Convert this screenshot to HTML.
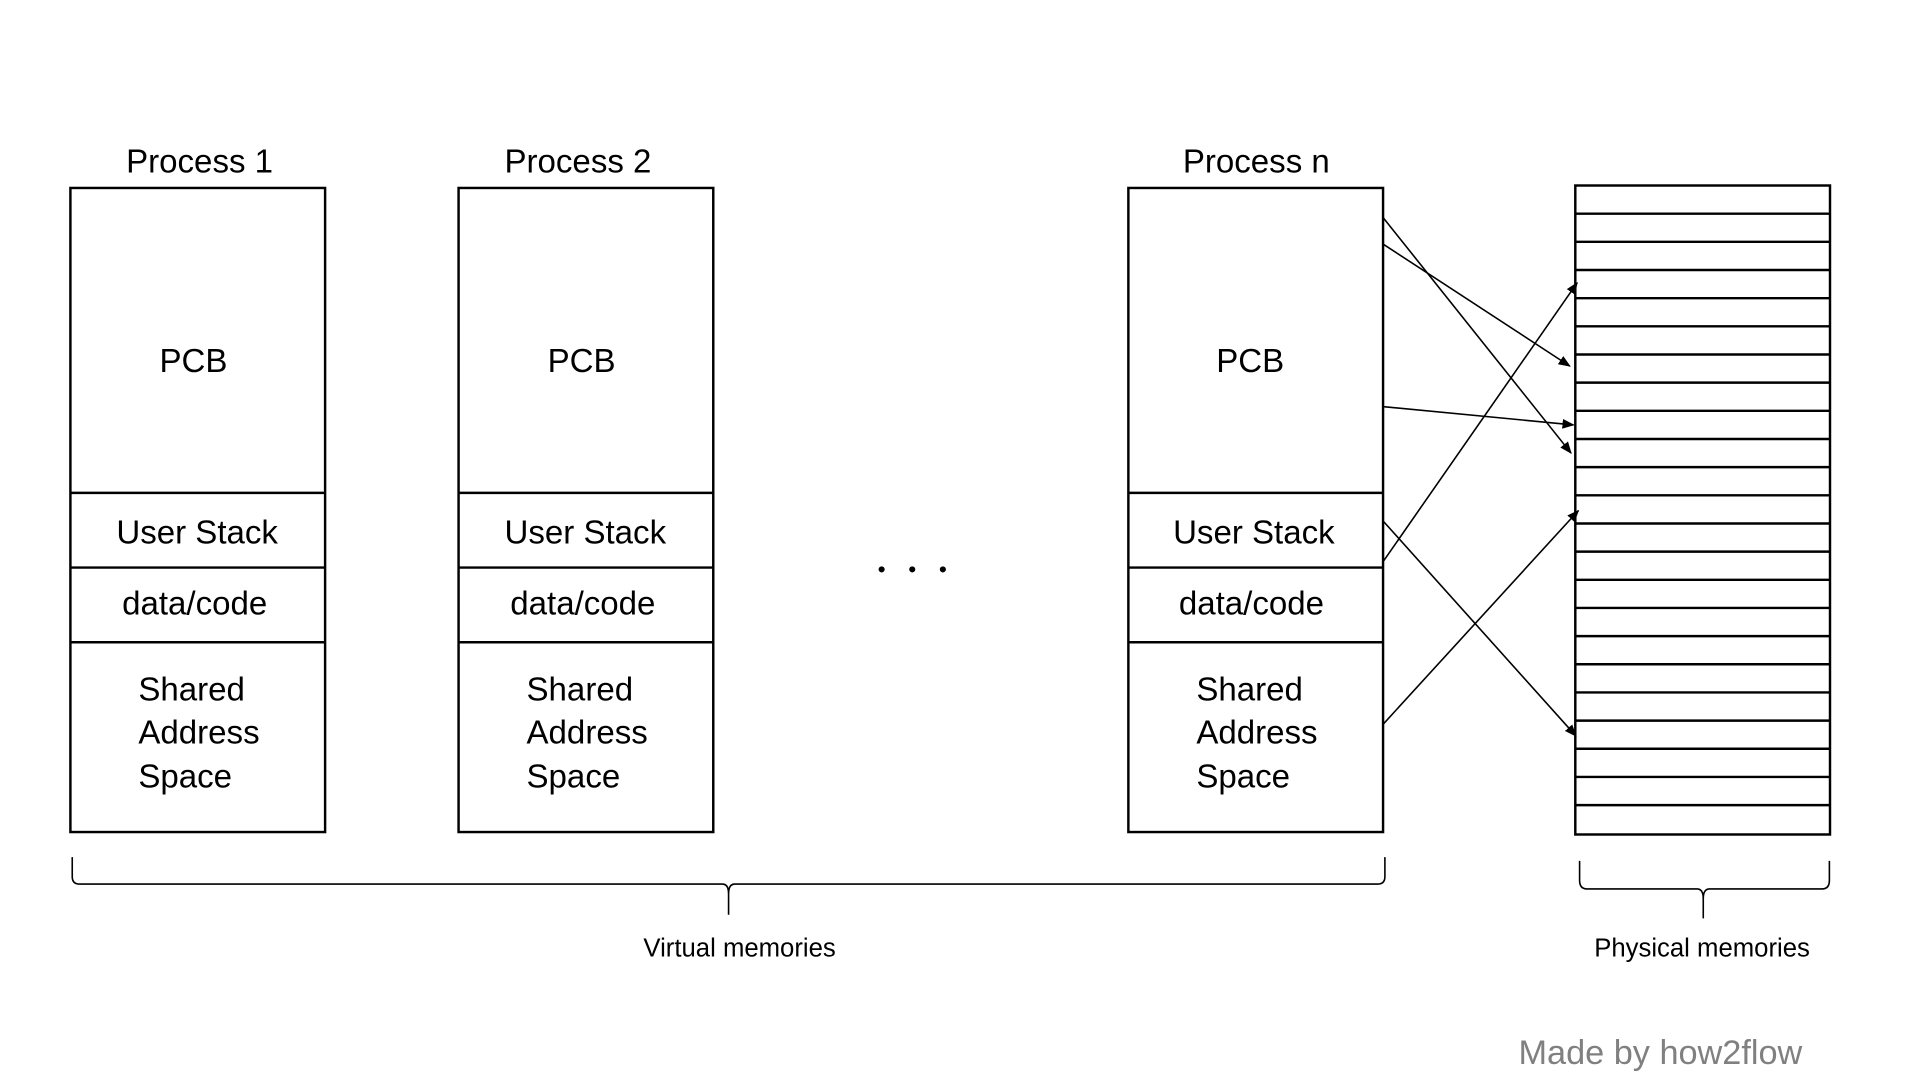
<!DOCTYPE html>
<html><head><meta charset="utf-8"><style>
html,body{margin:0;padding:0;background:#fff;width:1920px;height:1080px;overflow:hidden}
svg{display:block}
text{font-family:"Liberation Sans","NanumGothic",sans-serif;fill:#000}
</style></head><body>
<svg width="1920" height="1080" viewBox="0 0 1568 882" preserveAspectRatio="none" xmlns="http://www.w3.org/2000/svg">
<defs><marker id="a" markerWidth="10" markerHeight="8" refX="9" refY="4" orient="auto" markerUnits="userSpaceOnUse"><path d="M0,0 L10,4 L0,8 z" fill="#000"/></marker></defs>
<g fill="none" stroke="#000" stroke-width="2">
<rect x="57.5" y="153.5" width="208" height="526"/><line x1="57" y1="402.5" x2="265" y2="402.5"/><line x1="57" y1="463.5" x2="265" y2="463.5"/><line x1="57" y1="524.5" x2="265" y2="524.5"/>
<rect x="374.5" y="153.5" width="208" height="526"/><line x1="374" y1="402.5" x2="582" y2="402.5"/><line x1="374" y1="463.5" x2="582" y2="463.5"/><line x1="374" y1="524.5" x2="582" y2="524.5"/>
<rect x="921.5" y="153.5" width="208" height="526"/><line x1="921" y1="402.5" x2="1129" y2="402.5"/><line x1="921" y1="463.5" x2="1129" y2="463.5"/><line x1="921" y1="524.5" x2="1129" y2="524.5"/>
<rect x="1286.5" y="151.5" width="208" height="530"/>
<path d="M1286 174.5H1494M1286 197.5H1494M1286 220.5H1494M1286 243.5H1494M1286 266.5H1494M1286 289.5H1494M1286 312.5H1494M1286 335.5H1494M1286 358.5H1494M1286 381.5H1494M1286 404.5H1494M1286 427.5H1494M1286 450.5H1494M1286 473.5H1494M1286 496.5H1494M1286 519.5H1494M1286 542.5H1494M1286 565.5H1494M1286 588.5H1494M1286 611.5H1494M1286 634.5H1494M1286 657.5H1494"/>
</g>
<g fill="none" stroke="#000" stroke-width="1.3">
<line x1="1129" y1="177" x2="1283" y2="370" marker-end="url(#a)"/>
<line x1="1129" y1="199" x2="1282" y2="299" marker-end="url(#a)"/>
<line x1="1129" y1="332" x2="1285" y2="347" marker-end="url(#a)"/>
<line x1="1130" y1="458" x2="1288" y2="231" marker-end="url(#a)"/>
<line x1="1130" y1="426" x2="1287" y2="601" marker-end="url(#a)"/>
<line x1="1130" y1="591" x2="1289" y2="417" marker-end="url(#a)"/>
<path d="M59 700 V716 Q59 722 65 722 H590 Q595 722 595 730 V747 M595 730 Q595 722 600 722 H1125 Q1131 722 1131 716 V700"/>
<path d="M1290 703 V719 Q1290 726 1296 726 H1386 Q1391 726 1391 734 V750 M1391 734 Q1391 726 1396 726 H1488 Q1494 726 1494 719 V703"/>
</g>
<g font-size="27" text-anchor="middle">
<text x="163" y="141">Process 1</text><text x="472" y="141">Process 2</text><text x="1026" y="141">Process n</text>
<text x="158" y="304">PCB</text><text x="475" y="304">PCB</text><text x="1021" y="304">PCB</text>
<text x="161" y="444">User Stack</text><text x="478" y="444">User Stack</text><text x="1024" y="444">User Stack</text>
<text x="159" y="502">data/code</text><text x="476" y="502">data/code</text><text x="1022" y="502">data/code</text>
</g>
<g font-size="27">
<text x="113" y="572">Shared</text><text x="113" y="607">Address</text><text x="113" y="643">Space</text>
<text x="430" y="572">Shared</text><text x="430" y="607">Address</text><text x="430" y="643">Space</text>
<text x="977" y="572">Shared</text><text x="977" y="607">Address</text><text x="977" y="643">Space</text>
</g>
<circle cx="720" cy="465" r="2.5"/><circle cx="745" cy="465" r="2.5"/><circle cx="770" cy="465" r="2.5"/>
<text x="604" y="781" font-size="21" text-anchor="middle">Virtual memories</text>
<text x="1390" y="781" font-size="21" text-anchor="middle">Physical memories</text>
<text x="1356" y="869" font-size="28" text-anchor="middle" style="fill:#808080">Made by how2flow</text>
</svg>
</body></html>
